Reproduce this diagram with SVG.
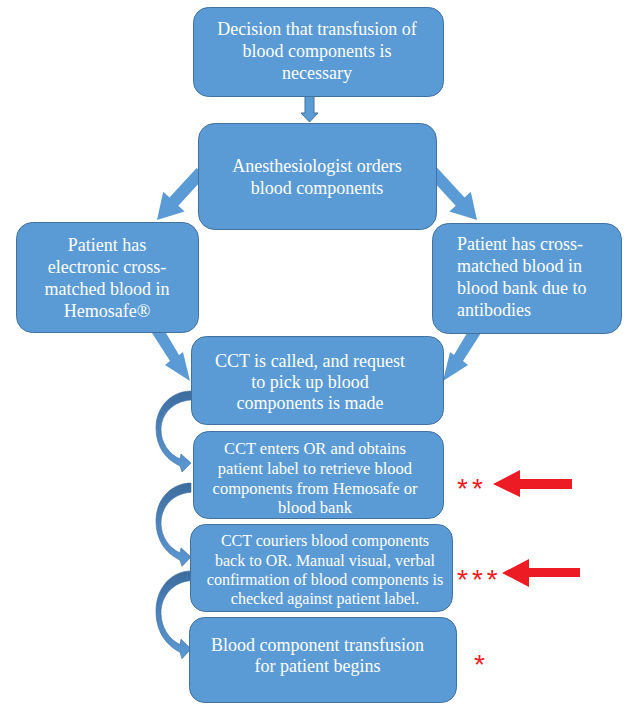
<svg xmlns="http://www.w3.org/2000/svg" width="624" height="704" viewBox="0 0 624 704">
<defs>
<style>
.box{fill:#5B9BD5;stroke:#41719C;stroke-width:1}
.t{font-family:"Liberation Serif","Times New Roman",serif;fill:#FFFFFF;font-size:18px;text-anchor:middle}
.ts{font-size:16.5px}
.tx{font-size:16px}
.ar{fill:#5B9BD5}
.dn{fill:#5B9BD5;stroke:#41719C;stroke-width:1}
.cv{fill:url(#cg);stroke:#41719C;stroke-width:0.6}
.red{fill:#ED1C24}
.ast{font-family:"Liberation Sans",Arial,sans-serif;fill:#ED1C24;font-size:28px;letter-spacing:4px}
</style>
<linearGradient id="cg" x1="0" y1="0" x2="0" y2="1">
<stop offset="0" stop-color="#3C6C9E"/>
<stop offset="0.5" stop-color="#4C84BE"/>
<stop offset="1" stop-color="#5B98D3"/>
</linearGradient>
<path id="curve" d="M191,391 C172,391 156,406 156,428 C156,446 165,459 180,466 L182,472 L191,463 L181,454 L180,459 C169,454 161,443 161,430 C161,413 174,401 191,400 Z"/>
</defs>
<rect width="624" height="704" fill="#FFFFFF"/>
<g id="connectors">
<polygon class="dn" points="305,96 314,96 314,113 318,113 309.5,122 301,113 305,113"/>
<polygon class="ar" points="157,220 163.2,191.8 169.5,197.5 196.6,168.1 205.4,176.3 178.3,205.7 184.6,211.4"/>
<polygon class="ar" points="477,220 470.8,191.8 464.5,197.5 437.4,168.1 428.6,176.3 455.7,205.7 449.4,211.4"/>
<polygon class="ar" points="190,381 183,352 179,355 163,328 152,333 170,361 165,365"/>
<polygon class="ar" points="443,381 450,352 454,355 470,328 481,333 463,361 468,365"/>
<use href="#curve" class="cv"/>
<use href="#curve" class="cv" transform="matrix(1,0,0,1.028,0,81.1)"/>
<use href="#curve" class="cv" transform="matrix(1,0,0,1.083,0,147.5)"/>
</g>
<g id="n1">
<rect class="box" x="193.5" y="7.5" width="250" height="89" rx="15"/>
<text class="t" x="317" y="35">Decision that transfusion of</text>
<text class="t" x="317" y="57">blood components is</text>
<text class="t" x="317" y="79">necessary</text>
</g>
<g id="n2">
<rect class="box" x="198.5" y="123.5" width="238" height="106" rx="16"/>
<text class="t" x="317" y="172">Anesthesiologist orders</text>
<text class="t" x="317" y="194">blood components</text>
</g>
<g id="n3">
<rect class="box" x="16.5" y="222.5" width="182" height="110" rx="16"/>
<text class="t" x="107" y="251">Patient has</text>
<text class="t" x="107" y="273">electronic cross-</text>
<text class="t" x="107" y="295">matched blood in</text>
<text class="t" x="107" y="317">Hemosafe®</text>
</g>
<g id="n4">
<rect class="box" x="432.5" y="223.5" width="189" height="110" rx="16"/>
<text class="t" x="457" y="250" style="text-anchor:start">Patient has cross-</text>
<text class="t" x="457" y="272" style="text-anchor:start">matched blood in</text>
<text class="t" x="457" y="294" style="text-anchor:start">blood bank due to</text>
<text class="t" x="457" y="316" style="text-anchor:start">antibodies</text>
</g>
<g id="n5">
<rect class="box" x="191.5" y="336.5" width="252" height="88" rx="15"/>
<text class="t" x="310" y="367">CCT is called, and request</text>
<text class="t" x="310" y="388">to pick up blood</text>
<text class="t" x="310" y="409">components is made</text>
</g>
<g id="n6">
<rect class="box" x="193.5" y="431.5" width="250" height="87" rx="15"/>
<text class="t ts" x="315" y="454">CCT enters OR and obtains</text>
<text class="t ts" x="315" y="474">patient label to retrieve blood</text>
<text class="t ts" x="315" y="494">components from Hemosafe or</text>
<text class="t ts" x="315" y="513">blood bank</text>
</g>
<g id="n7">
<rect class="box" x="190.5" y="524.5" width="262" height="87" rx="15"/>
<text class="t tx" x="325" y="546">CCT couriers blood components</text>
<text class="t tx" x="325" y="566">back to OR. Manual visual, verbal</text>
<text class="t tx" x="325" y="585">confirmation of blood components is</text>
<text class="t tx" x="325" y="604">checked against patient label.</text>
</g>
<g id="n8">
<rect class="box" x="189.5" y="617.5" width="267" height="85" rx="15"/>
<text class="t" x="317.5" y="651">Blood component transfusion</text>
<text class="t" x="317.5" y="672">for patient begins</text>
</g>
<g id="marks">
<text class="ast" x="457" y="498">**</text>
<polygon class="red" points="493,484 520,470 520,479 572,479 572,489 520,489 520,497"/>
<text class="ast" x="457" y="589">***</text>
<polygon class="red" points="502,573 529,559 529,568 580,568 580,577 529,577 529,587"/>
<text class="ast" x="474" y="674">*</text>
</g>
</svg>
